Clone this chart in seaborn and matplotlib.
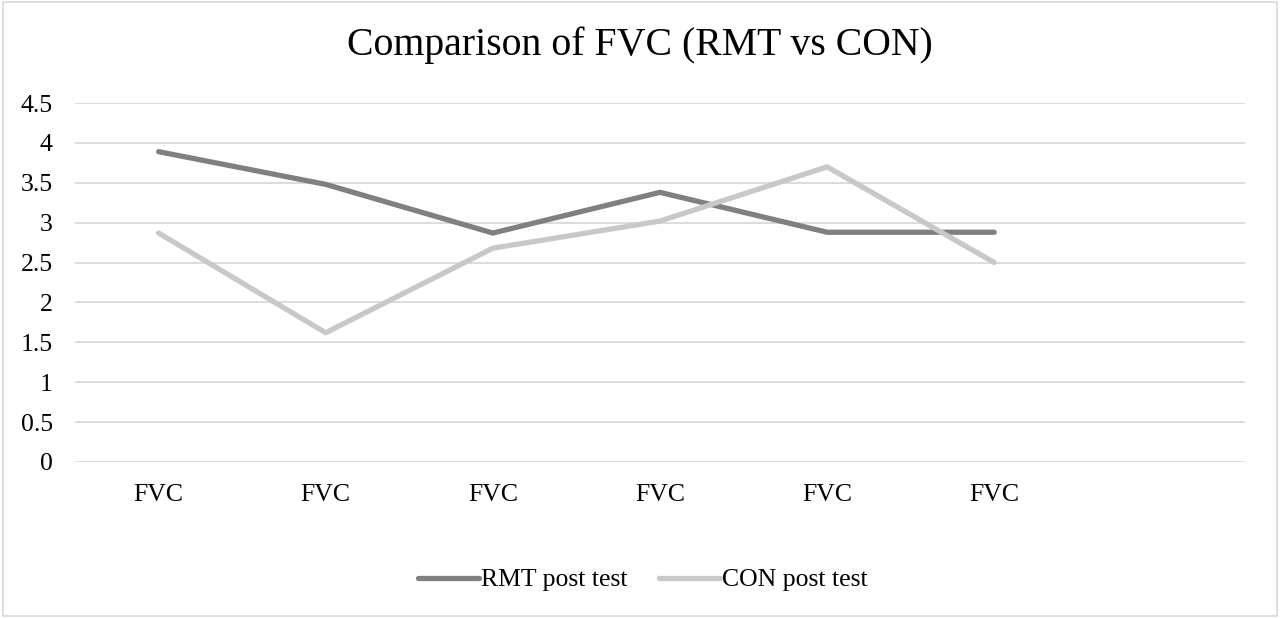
import pandas as pd
import matplotlib.pyplot as plt
import seaborn as sns

# data
categories = ["FVC", "FVC", "FVC", "FVC", "FVC", "FVC"]
rmt_post = [3.89, 3.48, 2.87, 3.38, 2.88, 2.88]
con_post = [2.87, 1.62, 2.68, 3.02, 3.70, 2.50]
series_names = ["RMT post test", "CON post test"]
yticks = [0, 0.5, 1, 1.5, 2, 2.5, 3, 3.5, 4, 4.5]

pos = list(range(len(categories)))
df = pd.DataFrame({
    "pos": pos * 2,
    "value": rmt_post + con_post,
    "series": [series_names[0]] * len(pos) + [series_names[1]] * len(pos),
})

sns.set_style("white")
plt.rcParams["font.family"] = ["Liberation Serif", "DejaVu Serif"]
plt.rcParams["text.color"] = "black"
plt.rcParams["xtick.color"] = "black"
plt.rcParams["ytick.color"] = "black"
plt.rcParams["lines.solid_capstyle"] = "round"

fig = plt.figure(figsize=(12.8, 6.18), dpi=100)
ax = fig.add_axes([75 / 1280, 1 - 462 / 618, 1170 / 1280, 359 / 618])

sns.lineplot(data=df, x="pos", y="value", hue="series",
             palette=["#808080", "#c8c8c8"], linewidth=3.8, ax=ax,
             legend=True)

ax.set_xlim(-0.5, 6.5)
ax.set_ylim(0, 4.5)
ax.set_yticks(yticks)
ax.set_yticklabels([f"{t:g}" for t in yticks], fontsize=18.5)
ax.set_xticks(pos)
ax.set_xticklabels(categories, fontsize=18.5)
ax.tick_params(axis="both", length=0)
ax.tick_params(axis="x", pad=16)
ax.tick_params(axis="y", pad=16)
ax.yaxis.grid(True, color="#d9d9d9", linewidth=1.3)
ax.set_axisbelow(True)
for s in ax.spines.values():
    s.set_visible(False)
ax.set_xlabel("")
ax.set_ylabel("")

ax.legend(loc="center", bbox_to_anchor=(643 / 1280, 1 - 580 / 618),
          bbox_transform=fig.transFigure, ncol=2, frameon=False,
          fontsize=18.5, handlelength=2.35, handletextpad=0.08,
          columnspacing=1.25)

fig.text(0.5, 1 - 45 / 618, "Comparison of FVC (RMT vs CON)",
         ha="center", va="center", fontsize=28.6)

# light border round the chart
fig.patches.append(plt.Rectangle((0.002, 0.003), 0.996, 0.994,
                                 transform=fig.transFigure, fill=False,
                                 edgecolor="#d9d9d9", linewidth=1.2))

fig.savefig("out.png", dpi=100)
